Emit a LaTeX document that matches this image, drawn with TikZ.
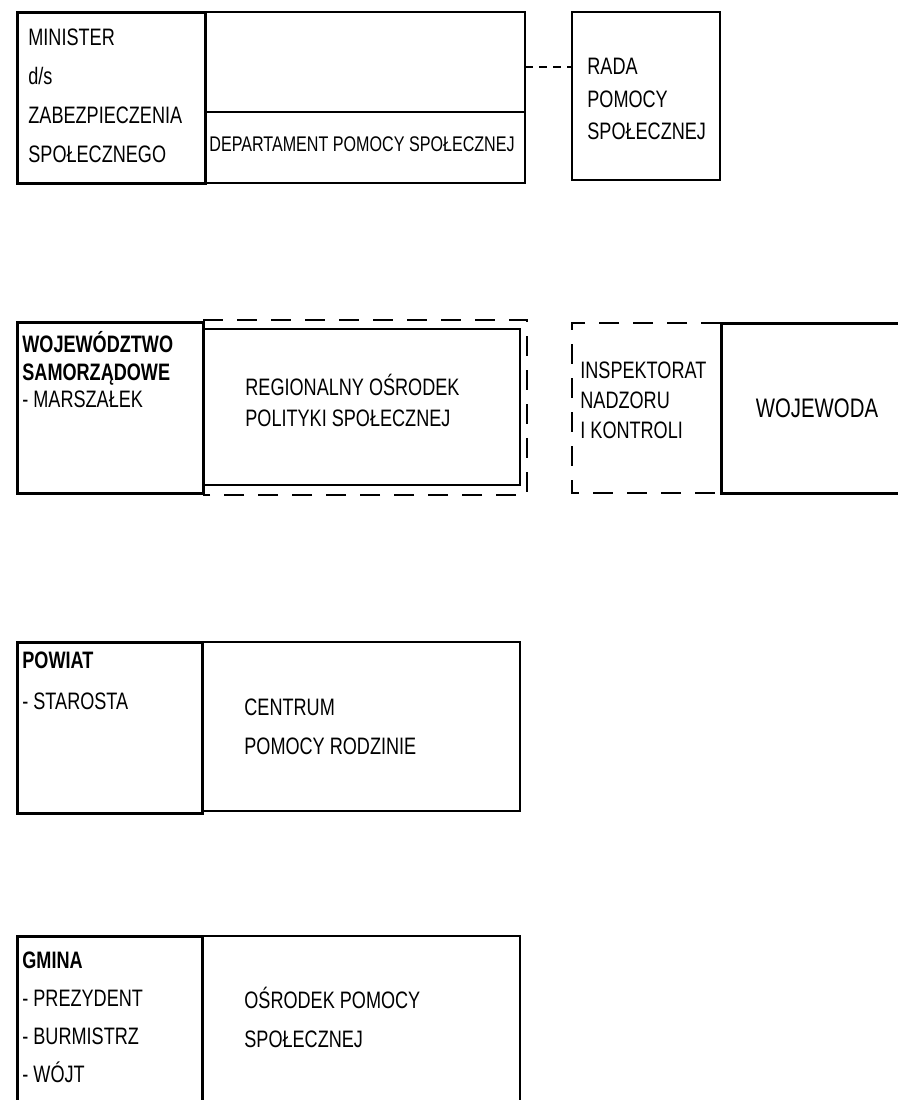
\documentclass[tikz,border=0pt]{standalone}
\usepackage{fontspec}
\setmainfont[FakeStretch=0.76]{Liberation Sans}
\usetikzlibrary{fit}
\usetikzlibrary{positioning}
\newcommand{\orgbox}[6] % name, left, top, right, bottom (in px), style
{
	\node[#6, fit={(#2,#3) (#4,#5)}] (#1) {};
}

\begin{document}
\begin{tikzpicture}[x=0.5pt, y=-0.5pt,
	box/.style={draw, line width=0.6pt, inner sep=0pt, outer sep=0pt},
	heavybox/.style={draw, line width=1.5pt, inner sep=0pt, outer sep=0pt},
	hidden/.style={inner sep=0pt, outer sep=0pt},
	frame/.style={line width=0.6pt, dash pattern=on 10pt off 7pt},
	link/.style={line width=0.6pt, dash pattern=on 4pt off 3pt},
	txt/.style={inner sep=0pt, align=left, font=\fontsize{11.9pt}{#1}\selectfont},
	txt/.default=15pt]
	% page 898 x 1100 px
	\useasboundingbox (0,0) rectangle (898,1100);
	\clip (0,0) rectangle (898,1100);
	
	% minister
	\orgbox{deptupper}{205}{12}{525}{112}{box}
	\orgbox{dept}{205}{112}{525}{183}{box}
	\orgbox{rada}{572}{12}{720}{180}{box}
	\orgbox{minister}{17}{12}{205}{183}{heavybox}
	\node[txt=19.5pt, below right=8pt and 5.5pt of minister.north west] (ministertxt) {MINISTER\\d/s\\ZABEZPIECZENIA\\SPOŁECZNEGO};
	\node[txt, font=\fontsize{10.6pt}{12pt}\selectfont, anchor=west] (depttxt) at (209,144) {DEPARTAMENT POMOCY SPOŁECZNEJ};
	\node[txt=16.25pt, below right=23pt and 7.5pt of rada.north west] (radatxt) {RADA\\POMOCY\\SPOŁECZNEJ};
	\coordinate (radain) at (572,67);
	\draw[link] (radain -| dept.east) -- (radain);
	
	% wojewodztwo
	\orgbox{rops}{203}{329}{520}{485}{box}
	\orgbox{ropsframe}{203}{320}{527}{495}{hidden}
	\draw[frame] (ropsframe.north west) -- (ropsframe.north east) -- (ropsframe.south east) -- (ropsframe.south west);
	\orgbox{woj}{17}{322}{203}{493}{heavybox}
	\node[txt=13.75pt, below right=4.5pt and 2.5pt of woj.north west] (wojtxt) {\textbf{WOJEWÓDZTWO}\\\textbf{SAMORZĄDOWE}\\- MARSZAŁEK};
	\node[txt=15.5pt, below right=22.5pt and 21pt of rops.north west] (ropstxt) {REGIONALNY OŚRODEK\\POLITYKI SPOŁECZNEJ};
	\orgbox{insp}{572}{323}{721}{493}{hidden}
	\orgbox{wojewoda}{721}{323}{905}{493}{heavybox}
	\draw[frame] (wojewoda.north west) -- (insp.north west) -- (insp.south west) -- (wojewoda.south west);
	\node[txt=15pt, below right=19pt and 4pt of insp.north west] (insptxt) {INSPEKTORAT\\NADZORU\\I KONTROLI};
	\node[txt, font=\fontsize{13.4pt}{15pt}\selectfont, xshift=2pt] (wojewodatxt) at (wojewoda.center) {WOJEWODA};
	
	% powiat
	\orgbox{pcpr}{202}{642}{520}{811}{box}
	\orgbox{powiat}{17}{642}{202}{813}{heavybox}
	\node[txt=20.5pt, below right=4.5pt and 2.5pt of powiat.north west] (powiattxt) {\textbf{POWIAT}\\- STAROSTA};
	\node[txt=19.5pt, below right=28pt and 21pt of pcpr.north west] (pcprtxt) {CENTRUM\\POMOCY RODZINIE};
	
	% gmina
	\orgbox{ops}{202}{936}{520}{1110}{box}
	\orgbox{gmina}{17}{936}{202}{1112}{heavybox}
	\node[txt=19pt, below right=7.5pt and 2.5pt of gmina.north west] (gminatxt) {\textbf{GMINA}\\- PREZYDENT\\- BURMISTRZ\\- WÓJT};
	\node[txt=19.5pt, below right=25.5pt and 21pt of ops.north west] (opstxt) {OŚRODEK POMOCY\\SPOŁECZNEJ};
\end{tikzpicture}
\end{document}
